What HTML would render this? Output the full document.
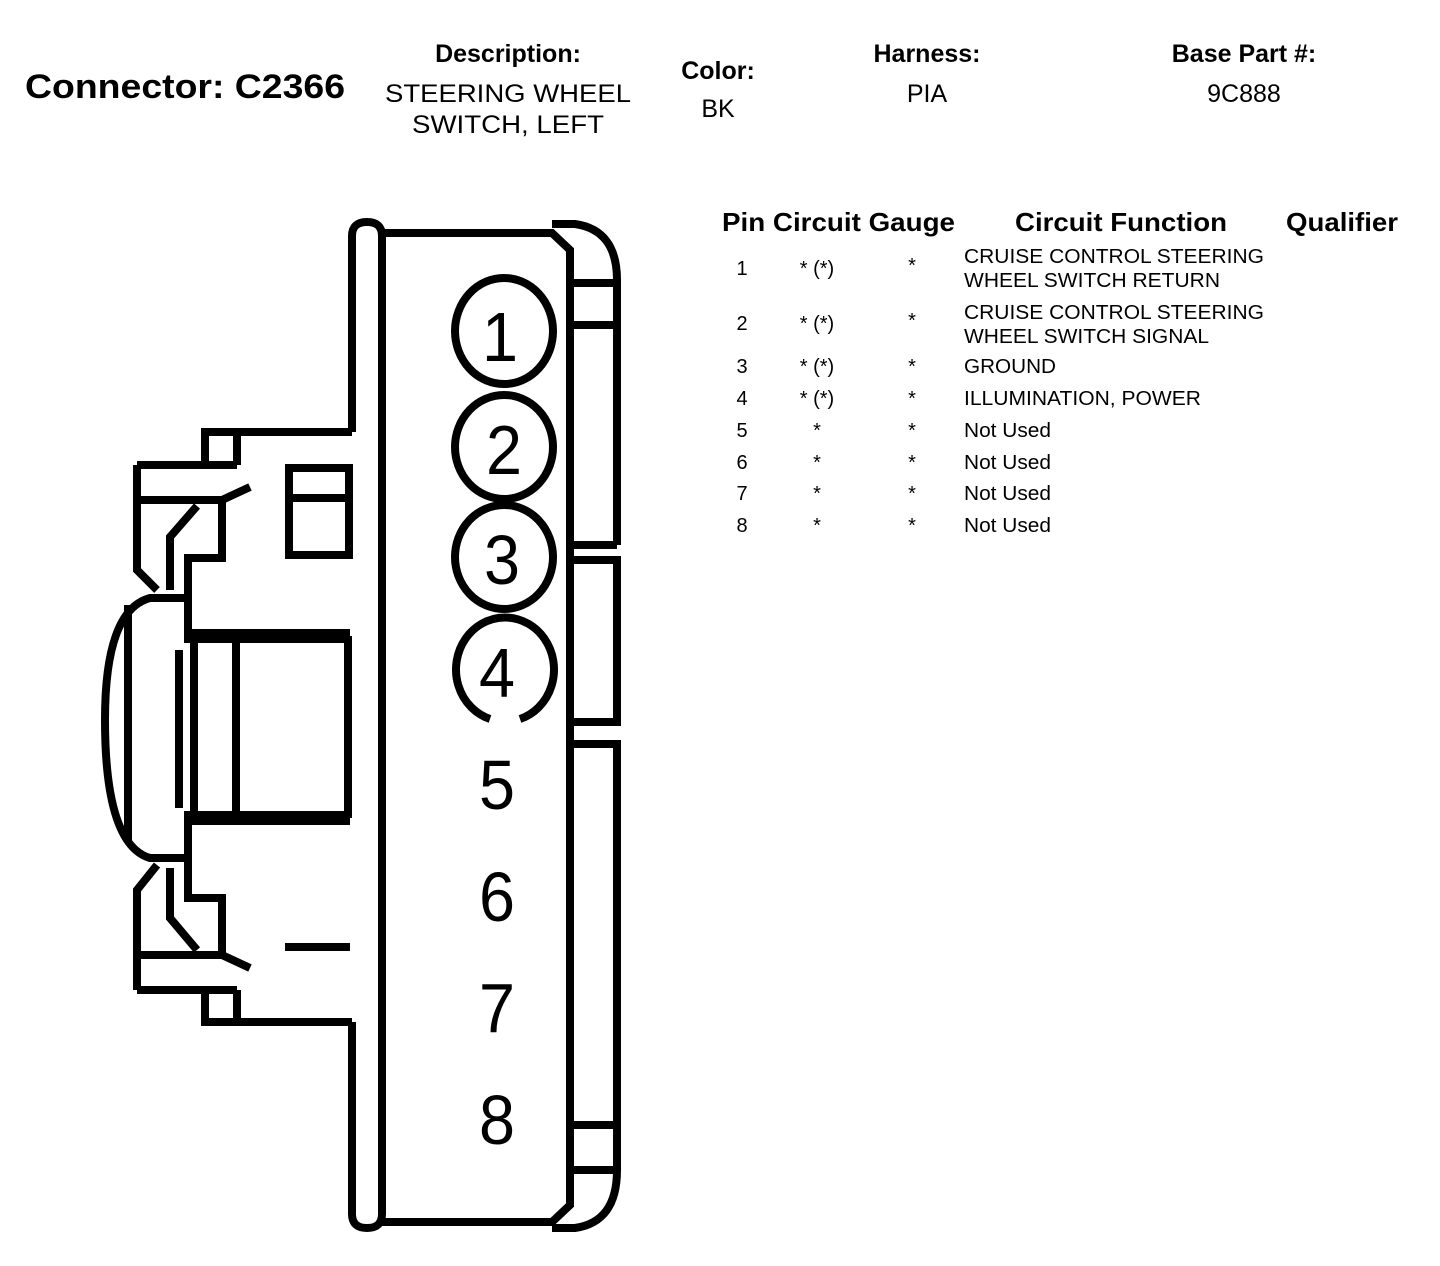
<!DOCTYPE html>
<html><head><style>html,body{margin:0;padding:0;background:#fff}svg{display:block}</style></head>
<body>
<svg width="1440" height="1266" viewBox="0 0 1440 1266" xmlns="http://www.w3.org/2000/svg" font-family="Liberation Sans, Arial, sans-serif">
<g fill="#000">
<text x="25" y="98" font-size="34" font-weight="bold" textLength="320" lengthAdjust="spacingAndGlyphs">Connector: C2366</text>
<text x="508" y="62" font-size="25" font-weight="bold" text-anchor="middle">Description:</text>
<text x="508" y="102" font-size="25" text-anchor="middle" textLength="246" lengthAdjust="spacingAndGlyphs">STEERING WHEEL</text>
<text x="508" y="133" font-size="25" text-anchor="middle" textLength="192" lengthAdjust="spacingAndGlyphs">SWITCH, LEFT</text>
<text x="718" y="79" font-size="25" font-weight="bold" text-anchor="middle">Color:</text>
<text x="718" y="117" font-size="25" text-anchor="middle">BK</text>
<text x="927" y="62" font-size="25" font-weight="bold" text-anchor="middle">Harness:</text>
<text x="927" y="102" font-size="25" text-anchor="middle">PIA</text>
<text x="1244" y="62" font-size="25" font-weight="bold" text-anchor="middle">Base Part #:</text>
<text x="1244" y="102" font-size="25" text-anchor="middle">9C888</text>

<text x="722" y="231" font-size="26" font-weight="bold" textLength="233" lengthAdjust="spacingAndGlyphs">Pin Circuit Gauge</text>
<text x="1015" y="231" font-size="26" font-weight="bold" textLength="212" lengthAdjust="spacingAndGlyphs">Circuit Function</text>
<text x="1286" y="231" font-size="26" font-weight="bold" textLength="112" lengthAdjust="spacingAndGlyphs">Qualifier</text>

<g font-size="20">
<g text-anchor="middle">
<text x="742" y="275">1</text><text x="817" y="275">* (*)</text><text x="912" y="272">*</text>
<text x="742" y="330">2</text><text x="817" y="330">* (*)</text><text x="912" y="327">*</text>
<text x="742" y="373">3</text><text x="817" y="373">* (*)</text><text x="912" y="373">*</text>
<text x="742" y="405">4</text><text x="817" y="405">* (*)</text><text x="912" y="405">*</text>
<text x="742" y="437">5</text><text x="817" y="437">*</text><text x="912" y="437">*</text>
<text x="742" y="469">6</text><text x="817" y="469">*</text><text x="912" y="469">*</text>
<text x="742" y="500">7</text><text x="817" y="500">*</text><text x="912" y="500">*</text>
<text x="742" y="532">8</text><text x="817" y="532">*</text><text x="912" y="532">*</text>
</g>
<text x="964" y="263" textLength="300" lengthAdjust="spacingAndGlyphs">CRUISE CONTROL STEERING</text>
<text x="964" y="287" textLength="256" lengthAdjust="spacingAndGlyphs">WHEEL SWITCH RETURN</text>
<text x="964" y="319" textLength="300" lengthAdjust="spacingAndGlyphs">CRUISE CONTROL STEERING</text>
<text x="964" y="343" textLength="245" lengthAdjust="spacingAndGlyphs">WHEEL SWITCH SIGNAL</text>
<text x="964" y="373" textLength="92" lengthAdjust="spacingAndGlyphs">GROUND</text>
<text x="964" y="405" textLength="237" lengthAdjust="spacingAndGlyphs">ILLUMINATION, POWER</text>
<text x="964" y="437" textLength="87" lengthAdjust="spacingAndGlyphs">Not Used</text>
<text x="964" y="469" textLength="87" lengthAdjust="spacingAndGlyphs">Not Used</text>
<text x="964" y="500" textLength="87" lengthAdjust="spacingAndGlyphs">Not Used</text>
<text x="964" y="532" textLength="87" lengthAdjust="spacingAndGlyphs">Not Used</text>
</g>

<g font-size="70" text-anchor="middle">
<text x="500" y="361" textLength="36" lengthAdjust="spacingAndGlyphs">1</text>
<text x="504" y="474" textLength="36" lengthAdjust="spacingAndGlyphs">2</text>
<text x="502" y="584" textLength="36" lengthAdjust="spacingAndGlyphs">3</text>
<text x="497" y="697" textLength="36" lengthAdjust="spacingAndGlyphs">4</text>
<text x="497" y="809" textLength="36" lengthAdjust="spacingAndGlyphs">5</text>
<text x="497" y="921" textLength="36" lengthAdjust="spacingAndGlyphs">6</text>
<text x="497" y="1032" textLength="36" lengthAdjust="spacingAndGlyphs">7</text>
<text x="497" y="1144" textLength="36" lengthAdjust="spacingAndGlyphs">8</text>
</g>
</g>

<g fill="none" stroke="#000" stroke-width="8" stroke-linejoin="miter">
<!-- left strip -->
<path d="M352 432 L352 236 Q352 222 367 222 Q382 222 382 236"/>
<path d="M352 1022 L352 1214 Q352 1228 367 1228 Q382 1228 382 1214"/>
<!-- main body -->
<path d="M382 236 L382 1214"/>
<path d="M380 233 L552 233 L570 250 L570 1205 L552 1222 L380 1222"/>
<!-- right strip -->
<path d="M552 224 L575 224 Q617 230 617 280 L617 545"/>
<path d="M570 283 L617 283 M570 325 L617 325 M570 545 L617 545"/>
<path d="M570 560 L617 560 L617 722 L570 722"/>
<path d="M570 744 L617 744 L617 1170 Q617 1222 575 1228 L552 1228"/>
<path d="M570 1125 L617 1125 M570 1170 L617 1170"/>
<!-- circles -->
<ellipse cx="504" cy="331" rx="49" ry="53"/>
<ellipse cx="504" cy="447" rx="49" ry="52"/>
<ellipse cx="504" cy="557" rx="49" ry="52"/>
<path d="M490 719 A49 52 0 1 1 520 719"/>

<!-- upper left structure -->
<path d="M352 432 L205 432 L205 465 M237 432 L237 465 M137 465 L237 465 M137 465 L137 570 L157 590"/>
<path d="M137 500 L222 500 L250 487"/>
<path d="M222 500 L222 558 L188 558 L188 632"/>
<path d="M197 506 L170 537 L170 590"/>
<rect x="289" y="468" width="60" height="87"/>
<path d="M289 498 L349 498"/>
<!-- bump -->
<path d="M185 598 L150 598 Q105 610 105 720 Q105 845 150 858 L185 858"/>
<path d="M128 605 L128 840"/>
<!-- big rect -->
<path d="M184 636 L350 636" stroke-width="14"/>
<path d="M184 818 L350 818" stroke-width="14"/>
<path d="M348 636 L348 818"/>
<path d="M179 650 L179 808 M194 640 L194 814 M236 640 L236 814"/>
<!-- lower left structure -->
<path d="M188 822 L188 860"/>
<path d="M352 1022 L205 1022 L205 990 M237 1022 L237 990 M137 990 L237 990 M137 990 L137 890 L157 865"/>
<path d="M137 955 L222 955 L250 968"/>
<path d="M222 955 L222 898 L188 898 L188 860"/>
<path d="M197 950 L170 918 L170 868"/>
<path d="M285 947 L350 947"/>
</g>
</svg>
</body></html>
